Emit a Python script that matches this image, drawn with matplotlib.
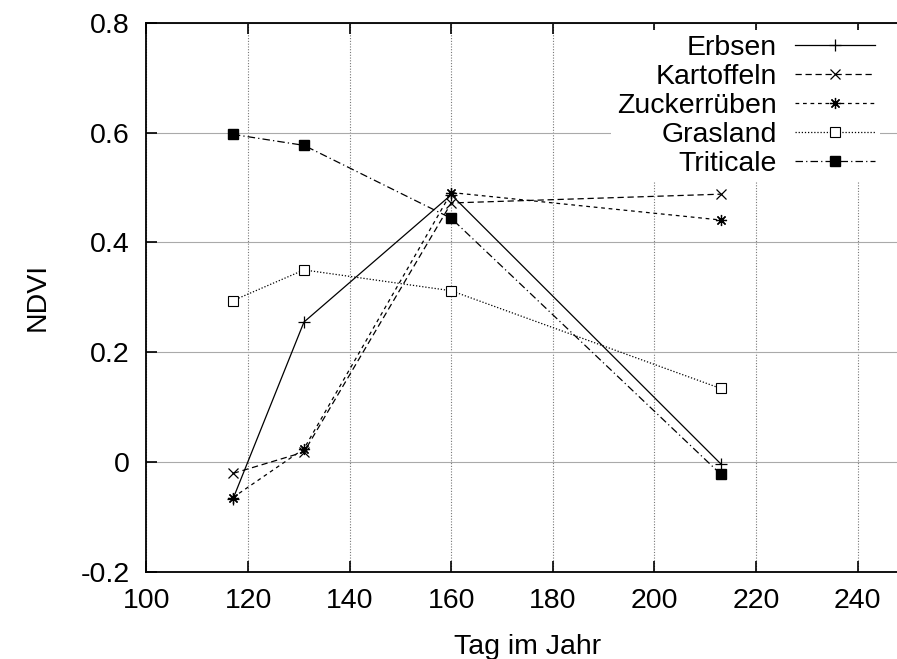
import numpy as np
import matplotlib
matplotlib.use("Agg")
import matplotlib.pyplot as plt

plt.rcParams["font.family"] = ["Liberation Sans", "DejaVu Sans"]

days = [117, 131, 160, 213]
erbsen = [-0.068, 0.255, 0.487, -0.003]
kartoffeln = [-0.021, 0.018, 0.472, 0.488]
zuckerrueben = [-0.065, 0.024, 0.491, 0.441]
grasland = [0.294, 0.350, 0.312, 0.134]
triticale = [0.597, 0.577, 0.444, -0.022]

xticks = [100, 120, 140, 160, 180, 200, 220, 240]
yticks = [-0.2, 0, 0.2, 0.4, 0.6, 0.8]
ylabels = ["-0.2", "0", "0.2", "0.4", "0.6", "0.8"]

fs = 20.5
fig = plt.figure(figsize=(8.97, 6.59), dpi=100)
ax = fig.add_axes([0.1633, 0.1325, 0.8495, 0.8326])

lw = 0.9
ax.plot(days, erbsen, color="k", lw=lw, ls="-", marker="+", ms=8, mew=0.9, label="Erbsen")
ax.plot(days, kartoffeln, color="k", lw=lw, ls=(0, (5, 3)), marker="x", ms=7, mew=0.9, label="Kartoffeln")
ax.plot(days, zuckerrueben, color="k", lw=lw, ls=(0, (3, 3)), marker=(8, 2, 0), ms=8, mew=0.9, label="Zuckerrüben")
ax.plot(days, grasland, color="k", lw=lw, ls=(0, (1, 1.5)), marker="s", ms=6.5, mfc="white", mew=0.8, label="Grasland")
ax.plot(days, triticale, color="k", lw=lw, ls=(0, (6, 2.5, 1, 2.5)), marker="s", ms=7, mfc="black", label="Triticale")

ax.set_xlim(100, 250)
ax.set_ylim(-0.2, 0.8)
ax.set_xticks(xticks)
ax.set_yticks(yticks)
ax.set_yticklabels(ylabels)
ax.tick_params(direction="in", length=8, width=1.2, labelsize=fs, top=True, right=True)
ax.tick_params(axis="y", pad=12)
ax.tick_params(axis="x", pad=12)

ax.xaxis.grid(True, color="#777777", ls=(0, (1, 1.5)), lw=0.8)
ax.yaxis.grid(True, color="#aaaaaa", ls="-", lw=0.8)
ax.set_axisbelow(True)
for s in ax.spines.values():
    s.set_linewidth(1.3)

ax.set_xlabel("Tag im Jahr", fontsize=fs, labelpad=14)
ax.set_ylabel("NDVI", fontsize=fs, labelpad=22)

leg = ax.legend(loc="upper right", bbox_to_anchor=(0.963, 0.988), markerfirst=False, frameon=True,
                fontsize=fs, handlelength=2.8, labelspacing=0.1, handletextpad=0.63,
                borderpad=0.2, borderaxespad=0.0)
leg.get_frame().set_facecolor("white")
leg.get_frame().set_edgecolor("none")
leg.get_frame().set_alpha(1.0)
leg.get_frame().set_boxstyle("square", pad=0)
for t in leg.get_texts():
    t.set_ha("right")
leg._legend_box.align = "right"

fig.savefig("out.png", dpi=100)
